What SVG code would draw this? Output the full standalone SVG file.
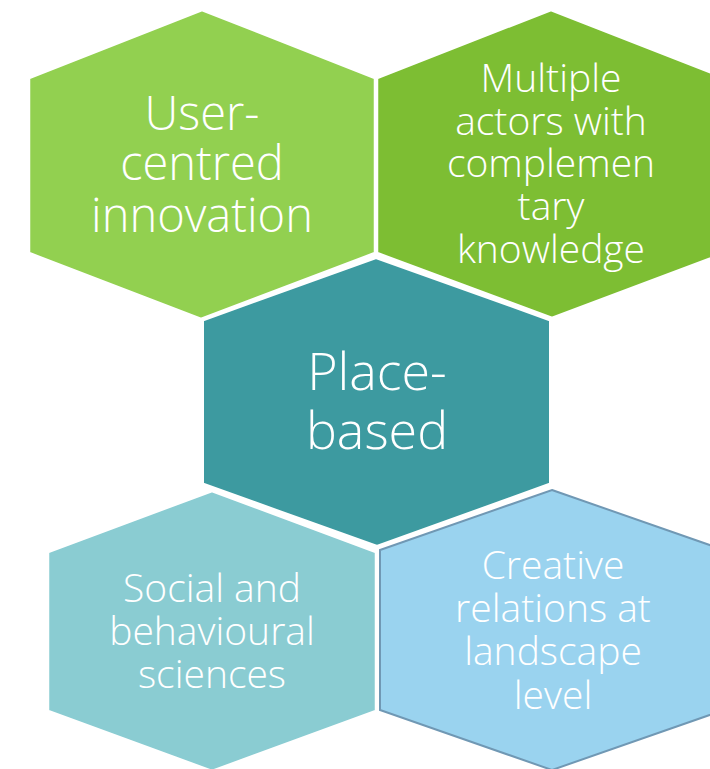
<svg xmlns="http://www.w3.org/2000/svg" width="710" height="769" viewBox="0 0 710 769">
<style>
.hex{stroke:#FFFFFF;stroke-width:2.5;stroke-linejoin:miter}
.t{font-family:"Open Sans","Noto Sans","Liberation Sans",sans-serif;fill:#FFFFFF;text-anchor:middle;font-weight:300}
.s37{font-size:39px}
</style>
<rect width="710" height="769" fill="#FFFFFF"/>
<g id="connectors"></g>
<g id="node-user-centred">
<polygon class="hex" fill="#92D050" points="202,10 375,78 375,253 201,319 29,253 29,78"/>
<text class="t" style="font-size:47px" x="202" y="130">User-</text>
<text class="t" style="font-size:47px" x="202" y="180">centred</text>
<text class="t" style="font-size:47px" x="202" y="231.5">innovation</text>
</g>
<g id="node-multiple-actors">
<polygon class="hex" fill="#7DBE33" points="551,10 725,78 725,253 552,318 377,253 377,78"/>
<text class="t s37" x="551" y="91.5">Multiple</text>
<text class="t s37" x="551" y="135">actors with</text>
<text class="t s37" x="551" y="176.5">complemen</text>
<text class="t s37" x="551" y="220">tary</text>
<text class="t s37" x="551" y="263">knowledge</text>
</g>
<g id="node-social">
<polygon class="hex" fill="#8ACCD2" points="212,491 376,552 376,711 212,771 48,711 48,552"/>
<text class="t s37" x="212" y="601.5">Social and</text>
<text class="t s37" x="212" y="644.5">behavioural</text>
<text class="t s37" x="212" y="687.5">sciences</text>
</g>
<g id="node-creative">
<polygon fill="#9AD3EF" stroke="#7098B4" stroke-width="2" points="552,490 724,550 724,710 552,770 380,710 380,550"/>
<text class="t s37" x="553" y="578.5">Creative</text>
<text class="t s37" x="553" y="621.5">relations at</text>
<text class="t s37" x="553" y="665">landscape</text>
<text class="t s37" x="553" y="709">level</text>
</g>
<g id="node-place-based">
<polygon class="hex" fill="#3D9AA0" points="376,257.5 550.5,320 550.5,484 377,546.5 202.5,484 202.5,320" style="stroke-width:3"/>
<text class="t" style="font-size:52px" x="377" y="390">Place-</text>
<text class="t" style="font-size:52px" x="377" y="448.5">based</text>
</g>
</svg>
